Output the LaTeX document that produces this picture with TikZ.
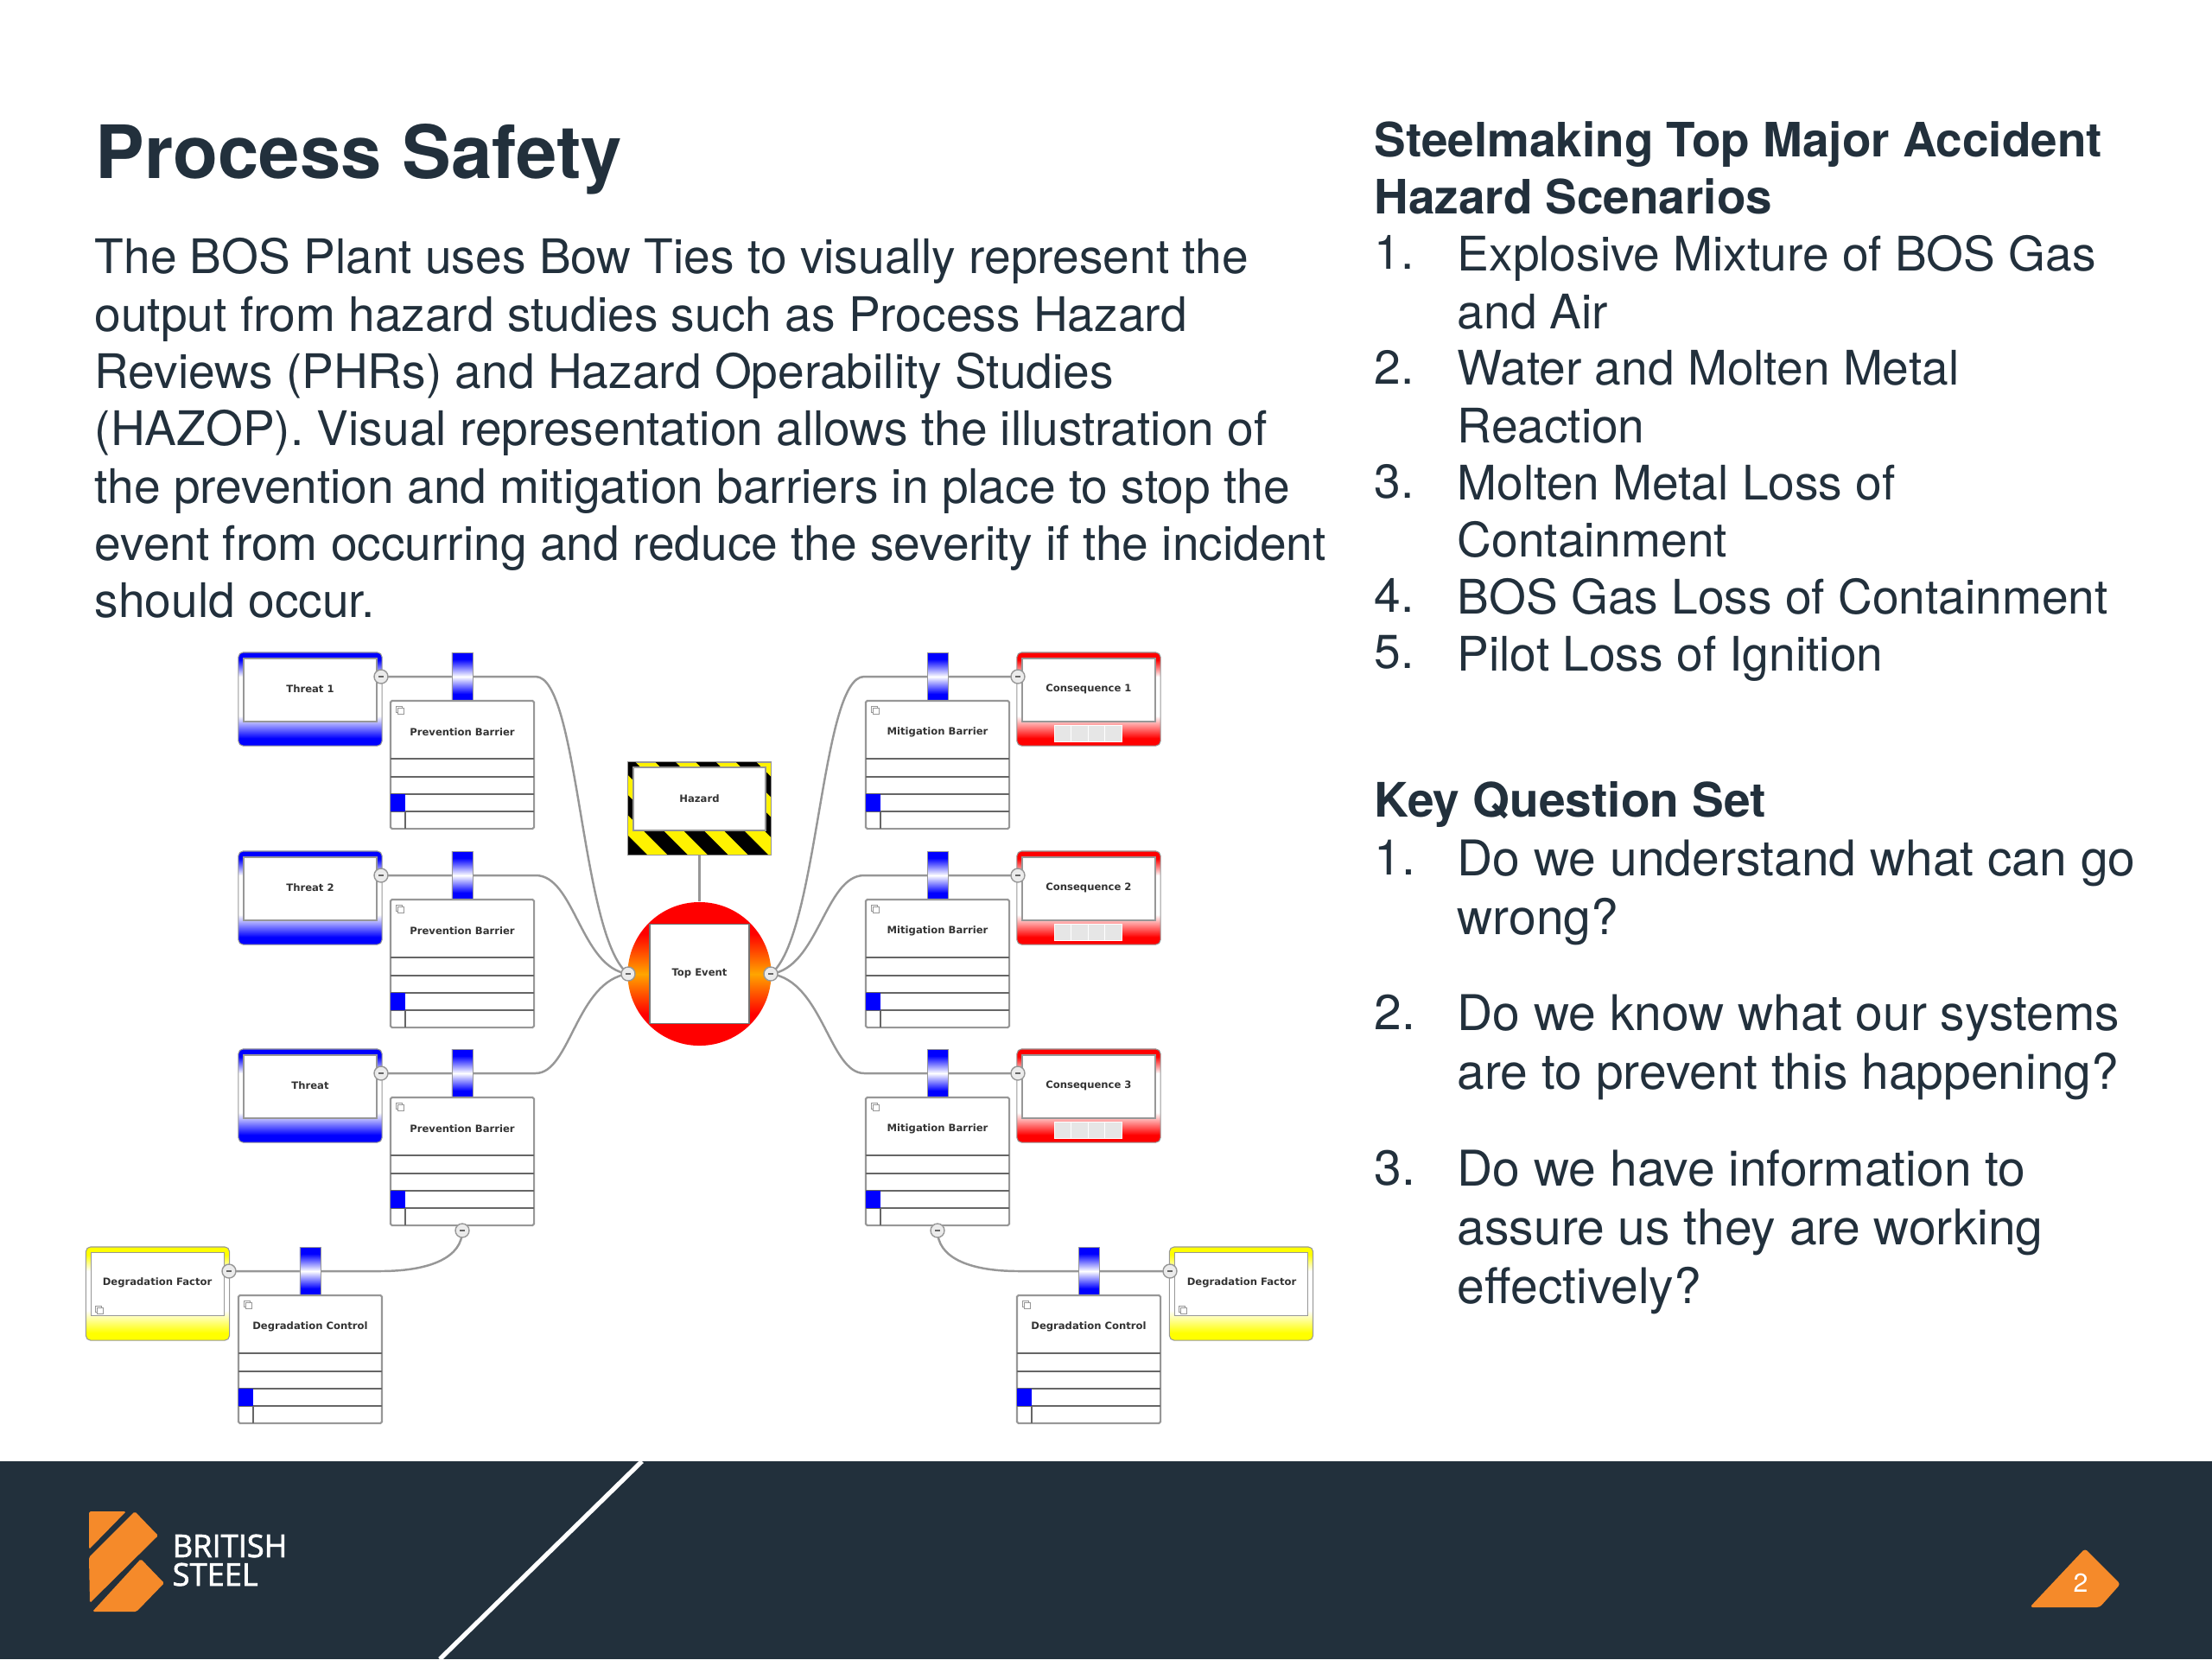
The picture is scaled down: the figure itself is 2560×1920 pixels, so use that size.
\documentclass[tikz,border=0pt]{standalone}
\usepackage{fontspec}
\setmainfont{TeX Gyre Heros}
\newfontfamily\bowfont{DejaVu Sans}
\newfontfamily\logofont{Open Sans}[RawFeature={embolden=2}]
\usepackage{xcolor}
\usetikzlibrary{positioning,calc}
\definecolor{slatedark}{HTML}{22303C}
\definecolor{logoorange}{HTML}{F58A2A}
\definecolor{linegrey}{HTML}{979797}
\definecolor{cellgrey}{HTML}{E6E6E6}
\definecolor{topamber}{HTML}{FFA500}
\pgfdeclarelayer{back}
\pgfsetlayers{back,main}
\pgfdeclareverticalshading{threatfade}{100bp}{color(0bp)=(blue); color(29bp)=(blue); color(41bp)=(white); color(62bp)=(white); color(71bp)=(blue); color(100bp)=(blue)}
\pgfdeclareverticalshading{conseqfade}{100bp}{color(0bp)=(red); color(29bp)=(red); color(41bp)=(white); color(62bp)=(white); color(71bp)=(red); color(100bp)=(red)}
\pgfdeclareverticalshading{factorfade}{100bp}{color(0bp)=(yellow); color(29bp)=(yellow); color(41bp)=(white); color(62bp)=(white); color(71bp)=(yellow); color(100bp)=(yellow)}
\pgfdeclareverticalshading{topfade}{100bp}{color(0bp)=(red); color(36bp)=(red); color(50bp)=(topamber); color(64bp)=(red); color(100bp)=(red)}
\pgfdeclareverticalshading{tabfade}{100bp}{color(0bp)=(blue); color(32bp)=(blue); color(50bp)=(white); color(68bp)=(blue); color(100bp)=(blue)}
\newcommand{\barrierbox}[4]{
\begin{scope}[shift={(#2,#3)}]
\node[tabbar] (#1tab) at (0,28) {};
\node[barrierbody] (#1) at (0,130) {};
\node[bowtext] (#1text) at (0,92) {#4};
\foreach \r in {123,144,164,184} \draw[rowline] (-83,\r) -- (83,\r);
\node[bluecell] (#1cell) at (-74.5,174) {};
\draw[rowline] (-66,184) -- (-66,204);
\node[iconbox] (#1icon) at (-73,66) {};
\node[iconbox] (#1iconb) at (-71,68) {};
\end{scope}
}
\begin{document}
\begin{tikzpicture}[x=0.01cm,y=-0.01cm]
\tikzstyle{threatbox}=[draw=linegrey, line width=0.3pt, rounded corners=1.5pt, shade, shading=threatfade, minimum width=1.66cm, minimum height=1.08cm, inner sep=0pt]
\tikzstyle{conseqbox}=[draw=linegrey, line width=0.3pt, rounded corners=1.5pt, shade, shading=conseqfade, minimum width=1.66cm, minimum height=1.08cm, inner sep=0pt]
\tikzstyle{factorbox}=[draw=linegrey, line width=0.3pt, rounded corners=1.5pt, shade, shading=factorfade, minimum width=1.66cm, minimum height=1.08cm, inner sep=0pt]
\tikzstyle{innerbox}=[draw=linegrey, line width=0.5pt, fill=white, minimum width=1.54cm, minimum height=0.73cm, inner sep=0pt]
\tikzstyle{bowtext}=[inner sep=0pt, text=black!80, font=\bowfont\bfseries\fontsize{3.3}{4}\selectfont]
\tikzstyle{tabbar}=[draw=linegrey, line width=0.2pt, shade, shading=tabfade, minimum width=0.24cm, minimum height=0.56cm, inner sep=0pt]
\tikzstyle{barrierbody}=[draw=linegrey, line width=0.6pt, fill=white, rounded corners=0.5pt, minimum width=1.66cm, minimum height=1.48cm, inner sep=0pt]
\tikzstyle{rowline}=[draw=black!60, line width=0.55pt]
\tikzstyle{bluecell}=[fill=blue, minimum width=0.17cm, minimum height=0.2cm, inner sep=0pt]
\tikzstyle{iconbox}=[draw=linegrey, line width=0.3pt, fill=white, minimum size=0.07cm, inner sep=0pt]
\tikzstyle{handle}=[circle, draw=linegrey, line width=0.4pt, fill=white!92!black, minimum size=0.16cm, inner sep=0pt, path picture={\draw[black!60, line width=0.4pt] ($(path picture bounding box.center)+(-3,0)$) -- ($(path picture bounding box.center)+(3,0)$);}]
\tikzstyle{link}=[draw=linegrey, line width=0.7pt]
\tikzstyle{bodytext}=[anchor=north west, inner sep=0pt, align=left, text=slatedark]
\useasboundingbox (0,0) rectangle (2560,1920);
\fill[slatedark] (0,1691) rectangle (2560,1920);
\draw[white, line width=1.5pt] (743,1691) -- (509,1920);
\node[bodytext, font=\bfseries\fontsize{24.2}{30}\selectfont] (title) at (110,143) {Process Safety};
\node[bodytext, font=\fontsize{15.67}{18.86}\selectfont] (intro) at (109,275) {The BOS Plant uses Bow Ties to visually represent the\\output from hazard studies such as Process Hazard\\Reviews (PHRs) and Hazard Operability Studies\\(HAZOP). Visual representation allows the illustration of\\the prevention and mitigation barriers in place to stop the\\event from occurring and reduce the severity if the incident\\should occur.};
\node[bodytext, font=\bfseries\fontsize{15.6}{18.86}\selectfont] (scenhead) at (1590,140) {Steelmaking Top Major Accident\\Hazard Scenarios};
\foreach \n/\y/\txt in {1/272/{Explosive Mixture of BOS Gas\\and Air},2/405/{Water and Molten Metal\\Reaction},3/537/{Molten Metal Loss of\\Containment},4/669/{BOS Gas Loss of Containment},5/735/{Pilot Loss of Ignition}} {
\node[bodytext, font=\fontsize{15.67}{18.86}\selectfont] (scennum\n) at (1590,\y) {\n.};
\node[bodytext, font=\fontsize{15.67}{18.86}\selectfont] (scen\n) at (1686,\y) {\txt};
}
\node[bodytext, font=\bfseries\fontsize{15.65}{18.86}\selectfont] (keyhead) at (1590,904) {Key Question Set};
\foreach \n/\y/\txt in {1/971/{Do we understand what can go\\wrong?},2/1150/{Do we know what our systems\\are to prevent this happening?},3/1330/{Do we have information to\\assure us they are working\\effectively?}} {
\node[bodytext, font=\fontsize{16.2}{19.3}\selectfont] (keynum\n) at (1590,\y) {\n.};
\node[bodytext, font=\fontsize{16.2}{19.3}\selectfont] (key\n) at (1686,\y) {\txt};
}
\foreach \n/\y/\txt in {1/755/Threat 1,2/985/Threat 2,3/1214/Threat} {
\node[threatbox] (threat\n) at (359,\y+54) {};
\node[innerbox] (threatin\n) at (359,\y+43.5) {};
\node[bowtext] (threattext\n) at (359,\y+42) {\txt};
\barrierbox{prevent\n}{535}{\y}{Prevention Barrier}
\node[handle] (threathandle\n) at (441,\y+28) {};
}
\foreach \n/\y in {1/755,2/985,3/1214} {
\node[conseqbox] (conseq\n) at (1260,\y+54) {};
\node[innerbox] (conseqin\n) at (1260,\y+43.5) {};
\node[bowtext] (conseqtext\n) at (1260,\y+42) {Consequence \n};
\foreach \c in {0,1,2,3} \node[draw=white, line width=0.2pt, fill=cellgrey, minimum width=0.195cm, minimum height=0.19cm, inner sep=0pt] (cell\n\c) at (1229.75+19.5*\c,\y+93.5) {};
\barrierbox{mitigate\n}{1085}{\y}{Mitigation Barrier}
\node[handle] (conseqhandle\n) at (1178,\y+28) {};
}
\node[factorbox] (factorl) at (182.5,1497) {};
\node[innerbox] (factorlin) at (182.5,1486) {};
\node[bowtext] (factorltext) at (182,1484) {Degradation Factor};
\node[iconbox] (factorlicon) at (114,1515) {};
\node[iconbox] (factorliconb) at (116,1517) {};
\barrierbox{controll}{359}{1443}{Degradation Control}
\node[handle] (factorlhandle) at (265,1471) {};
\node[handle] (barrierlhandle) at (535,1424) {};
\node[factorbox] (factorr) at (1436.5,1497) {};
\node[innerbox] (factorrin) at (1436.5,1486) {};
\node[bowtext] (factorrtext) at (1437,1484) {Degradation Factor};
\node[iconbox] (factorricon) at (1368,1515) {};
\node[iconbox] (factorriconb) at (1370,1517) {};
\barrierbox{controlr}{1260}{1443}{Degradation Control}
\node[handle] (factorrhandle) at (1354,1471) {};
\node[handle] (barrierrhandle) at (1085,1424) {};
\node[draw=linegrey, line width=0.3pt, fill=yellow, minimum width=1.65cm, minimum height=1.07cm, inner sep=0pt] (hazard) at (809.5,935.5) {};
\begin{scope}
\clip (727,882) rectangle (892,989);
\foreach \k in {-3,...,4} \fill[black] (712+46.67*\k,882) -- (735.33+46.67*\k,882) -- (842.33+46.67*\k,989) -- (819+46.67*\k,989) -- cycle;
\end{scope}
\node[draw=linegrey, line width=0.4pt, fill=white, minimum width=1.53cm, minimum height=0.73cm, inner sep=0pt] (hazardin) at (809.5,924.5) {};
\node[bowtext] (hazardtext) at (809.5,924) {Hazard};
\node[circle, shade, shading=topfade, minimum size=1.66cm, inner sep=0pt] (topevent) at (809.5,1127) {};
\node[draw=black!55, line width=0.5pt, fill=white, minimum size=1.15cm, inner sep=0pt] (topin) at (809.5,1127) {};
\node[bowtext] (toptext) at (809.5,1126) {Top Event};
\node[handle] (tophandlel) at (727,1127) {};
\node[handle] (tophandler) at (892,1127) {};
\begin{pgfonlayer}{back}
\draw[link] (hazard) -- (topevent);
\draw[link] (threathandle1.center) -- (prevent1tab.center) -- ++(85,0) .. controls +(50,0) and +(-55,-42) .. (tophandlel.center);
\draw[link] (threathandle2.center) -- (prevent2tab.center) -- ++(85,0) .. controls +(45,0) and +(-55,-7) .. (tophandlel.center);
\draw[link] (threathandle3.center) -- (prevent3tab.center) -- ++(85,0) .. controls +(40,0) and +(-60,8) .. (tophandlel.center);
\draw[link] (conseqhandle1.center) -- (mitigate1tab.center) -- ++(-85,0) .. controls +(-50,0) and +(55,-42) .. (tophandler.center);
\draw[link] (conseqhandle2.center) -- (mitigate2tab.center) -- ++(-85,0) .. controls +(-45,0) and +(55,-7) .. (tophandler.center);
\draw[link] (conseqhandle3.center) -- (mitigate3tab.center) -- ++(-85,0) .. controls +(-40,0) and +(60,8) .. (tophandler.center);
\draw[link] (factorlhandle.center) -- (controlltab.center) -- ++(81,0) .. controls +(60,0) and +(0,30) .. (barrierlhandle.center);
\draw[link] (factorrhandle.center) -- (controlrtab.center) -- ++(-81,0) .. controls +(-60,0) and +(0,30) .. (barrierrhandle.center);
\end{pgfonlayer}
\fill[logoorange, rounded corners=0.5pt] (103,1749) -- (146,1749) -- (103,1793) -- cycle;
\fill[logoorange, rounded corners=0.5pt] (156,1749) -- (183,1777) -- (104,1855) -- (103,1802) -- cycle;
\fill[logoorange, rounded corners=0.5pt] (163,1804) -- (190,1832) -- (158,1865) -- (107,1865) -- cycle;
\node[inner sep=0pt, anchor=north west, align=left, text=white, font=\logofont\fontsize{10.3}{9.4}\selectfont] (logotext) at (199,1775) {BRITISH\\STEEL};
\fill[logoorange, rounded corners=1pt] (2413,1792) -- (2454,1833) -- (2430,1860) -- (2349,1860) -- cycle;
\node[inner sep=0pt, text=white, font=\fontsize{8.6}{10}\selectfont] (pagenum) at (2408,1832) {2};
\end{tikzpicture}
\end{document}
